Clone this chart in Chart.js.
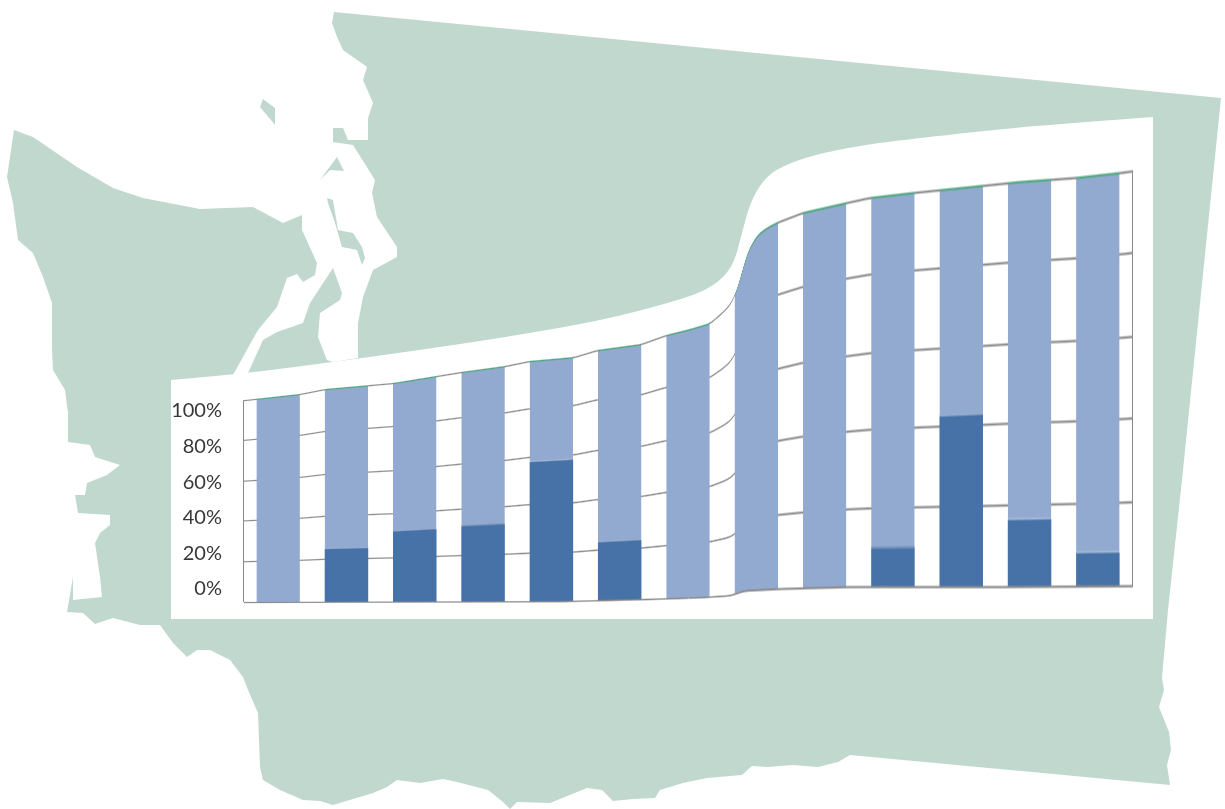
<!DOCTYPE html>
<html>
<head>
<meta charset="utf-8">
<title>Washington chart</title>
<script src="https://cdn.jsdelivr.net/npm/chart.js@4"></script>
<style>
    html, body { margin: 0; padding: 0; background: #fff; }
    #stage { position: relative; width: 1225px; height: 809px; overflow: hidden; }
    #stage svg, #stage canvas { position: absolute; left: 0; top: 0; }
</style>
</head>
<body>
<div id="stage">
    <svg width="1225" height="809" viewBox="0 0 1225 809">
        <g id="map" fill="#c1d8cf"></g>
        <path id="sheet" fill="#fff"></path>
    </svg>
    <canvas id="chart" width="1225" height="809"></canvas>
</div>
<script>
// chart data
const categories = ['1', '2', '3', '4', '5', '6', '7', '8', '9', '10', '11', '12', '13'];
const darkValues = [0, 25, 32, 33, 58, 23, 0, 0, 0, 10, 43, 16.5, 8];
const lightValues = [100, 75, 68, 67, 42, 77, 100, 100, 100, 90, 57, 83.5, 92];
const tickValues = [0, 20, 40, 60, 80, 100];

// the chart is bent like a sheet: top and bottom edge of the plot, as [x, y]
const topEdge = [[236, 401], [300, 394], [325, 389], [393, 383], [461, 372], [505, 366], [529, 361], [574, 357], [597, 350],
    [641, 344], [666, 335], [690, 329], [710, 323], [725, 310], [733, 300], [740, 280], [747, 253], [757, 235], [766, 228], [777, 222],
    [803, 212], [847, 202], [870, 197], [913, 192], [1020, 181], [1075, 177], [1120, 172], [1142, 169]];
const bottomEdge = [[236, 602], [560, 601], [640, 599], [700, 597], [730, 595], [745, 590], [780, 588], [850, 586], [1000, 586], [1142, 585]];

// white card behind the chart
const sheetTop = [[171, 380], [233, 375], [333, 362], [420, 350], [500, 338], [600, 321], [680, 300], [713, 287], [733, 267], [742, 233],
    [750, 203], [763, 180], [780, 167], [813, 155], [863, 145], [920, 138], [1020, 127], [1153, 117]];

// state outline and the islands
const mapShapes = [
    [[334, 12], [1221, 98], [1182, 480], [1168, 610], [1162, 678], [1164, 690], [1159, 707], [1169, 732], [1171, 750], [1167, 765], [1170, 785],
        [850, 755], [838, 762], [818, 767], [793, 765], [768, 767], [752, 766], [742, 775], [707, 778], [683, 783], [660, 790], [655, 798], [633, 799],
        [613, 801], [602, 790], [587, 788], [550, 803], [517, 802], [510, 809], [503, 802], [488, 790], [457, 782], [443, 779], [420, 783], [397, 780],
        [387, 787], [373, 793], [333, 805], [320, 801], [303, 800], [280, 790], [263, 780], [260, 767], [258, 713], [248, 690], [243, 677], [230, 660],
        [210, 650], [197, 650], [187, 657], [173, 643], [160, 625], [140, 625], [113, 618], [95, 624], [83, 613], [67, 612], [73, 577], [73, 600],
        [102, 597], [100, 577], [95, 543], [100, 533], [110, 525], [110, 515], [78, 513], [75, 495], [85, 495], [87, 483], [107, 475], [120, 465],
        [95, 457], [90, 445], [68, 442], [68, 413], [65, 390], [53, 370], [52, 350], [52, 303], [43, 277], [33, 253], [18, 240], [13, 203], [7, 177],
        [14, 130], [33, 137], [77, 167], [113, 188], [143, 198], [200, 209], [253, 207], [283, 223], [302, 215], [302, 230], [317, 263], [315, 275],
        [303, 282], [297, 274], [287, 278], [277, 307], [258, 330], [233, 375], [248, 373], [263, 340], [277, 332], [303, 323], [310, 303], [333, 268],
        [342, 293], [340, 300], [320, 313], [318, 337], [327, 360], [333, 362], [358, 358], [358, 323], [363, 297], [373, 270], [397, 257], [397, 247],
        [377, 217], [372, 193], [375, 180], [353, 145], [333, 142], [333, 128], [343, 128], [348, 140], [368, 140], [368, 118], [373, 103], [363, 80],
        [367, 67], [343, 50], [337, 37], [332, 23]],
    [[263, 99], [275, 108], [275, 125], [260, 107]],
    [[337, 157], [344, 171], [330, 170], [320, 180]],
    [[327, 198], [333, 200], [338, 230], [353, 233], [362, 247], [365, 258], [362, 265], [357, 250], [342, 247], [335, 223], [328, 203]]
];

const toPath = pts => 'M' + pts.map(p => p.join(',')).join('L') + 'Z';
document.getElementById('map').innerHTML = mapShapes.map(s => `<path d="${toPath(s)}"></path>`).join('');

// card outline: rounded through the midpoints of the traced top edge
let sheetPath = `M171,619L${sheetTop[0].join(',')}`;
for (let i = 1; i < sheetTop.length - 1; i++) {
    const midX = (sheetTop[i][0] + sheetTop[i + 1][0]) / 2;
    const midY = (sheetTop[i][1] + sheetTop[i + 1][1]) / 2;
    sheetPath += `Q${sheetTop[i].join(',')} ${midX},${midY}`;
}
sheetPath += `L${sheetTop[sheetTop.length - 1].join(',')}L1153,619Z`;
document.getElementById('sheet').setAttribute('d', sheetPath);

const edgeAt = (edge, x) => {
    for (let i = 1; i < edge.length; i++) {
        if (x <= edge[i][0]) {
            const t = (x - edge[i - 1][0]) / (edge[i][0] - edge[i - 1][0]);
            return edge[i - 1][1] + t * (edge[i][1] - edge[i - 1][1]);
        }
    }
    return edge[edge.length - 1][1];
};

// takes the corners off the traced edge
const softEdgeAt = (edge, x) => {
    let sum = 0;
    for (let d = -4; d <= 4; d++) {
        sum += edgeAt(edge, x + d);
    }
    return sum / 9;
};

// redraws what the chart has painted so far, one pixel column at a time
const bendPlugin = {
    id: 'bend',
    afterDatasetsDraw(chart) {
        const ctx = chart.ctx;
        const area = chart.chartArea;
        const margin = 4;
        const left = Math.floor(area.left) - margin;
        const width = Math.ceil(area.right) + margin - left;
        const srcTop = area.top - margin;
        const srcHeight = area.height + margin * 2;
        const copy = document.createElement('canvas');
        copy.width = width;
        copy.height = srcHeight;
        copy.getContext('2d').drawImage(chart.canvas, left, srcTop, width, srcHeight, 0, 0, width, srcHeight);
        ctx.save();
        ctx.clearRect(left, srcTop, width, srcHeight);
        ctx.imageSmoothingEnabled = true;
        ctx.imageSmoothingQuality = 'high';
        for (let i = 0; i < width; i++) {
            const x = left + i + 0.5;
            const top = softEdgeAt(topEdge, x);
            const bottom = softEdgeAt(bottomEdge, x);
            const scale = (bottom - top) / area.height;
            ctx.drawImage(copy, i, 0, 1, srcHeight, left + i, top - margin * scale, 1, srcHeight * scale);
        }
        ctx.restore();
    }
};

new Chart(document.getElementById('chart'), {
    type: 'bar',
    data: {
        labels: categories,
        datasets: [
            {
                label: 'Dark',
                data: darkValues,
                backgroundColor: '#4672a8',
                borderWidth: 0
            },
            {
                label: 'Light',
                data: lightValues,
                backgroundColor: '#92a9d0',
                borderColor: '#4fa67e',
                borderWidth: { top: 1 },
                borderSkipped: false
            }
        ]
    },
    options: {
        responsive: false,
        animation: false,
        layout: { padding: { left: 0, right: 93, top: 411, bottom: 220 } },
        datasets: { bar: { categoryPercentage: 1, barPercentage: 0.637 } },
        plugins: { legend: { display: false }, tooltip: { enabled: false } },
        scales: {
            x: {
                stacked: true,
                afterFit: scale => { scale.height = 0; },
                ticks: { display: false },
                border: { display: true, color: '#8a8a8a', width: 1 },
                grid: {
                    drawTicks: false,
                    // only the two outer lines of the plot frame
                    color: c => (c.index === 0 || c.index === undefined) ? '#8a8a8a' : 'transparent'
                }
            },
            y: {
                stacked: true,
                min: 0,
                max: 100,
                afterFit: scale => { scale.width = 244; },
                afterBuildTicks: scale => { scale.ticks = tickValues.map(value => ({ value })); },
                border: { display: false },
                grid: {
                    color: '#8a8a8a',
                    // the zero line is the x axis border, no second line there
                    lineWidth: c => (c.tick && c.tick.value === 0) ? 0 : 1,
                    drawTicks: false
                },
                ticks: {
                    z: 1,
                    padding: 22,
                    color: '#383838',
                    font: { family: 'Lato', size: 20 },
                    callback: value => value + '%'
                }
            }
        }
    },
    plugins: [bendPlugin]
});
</script>
</body>
</html>
